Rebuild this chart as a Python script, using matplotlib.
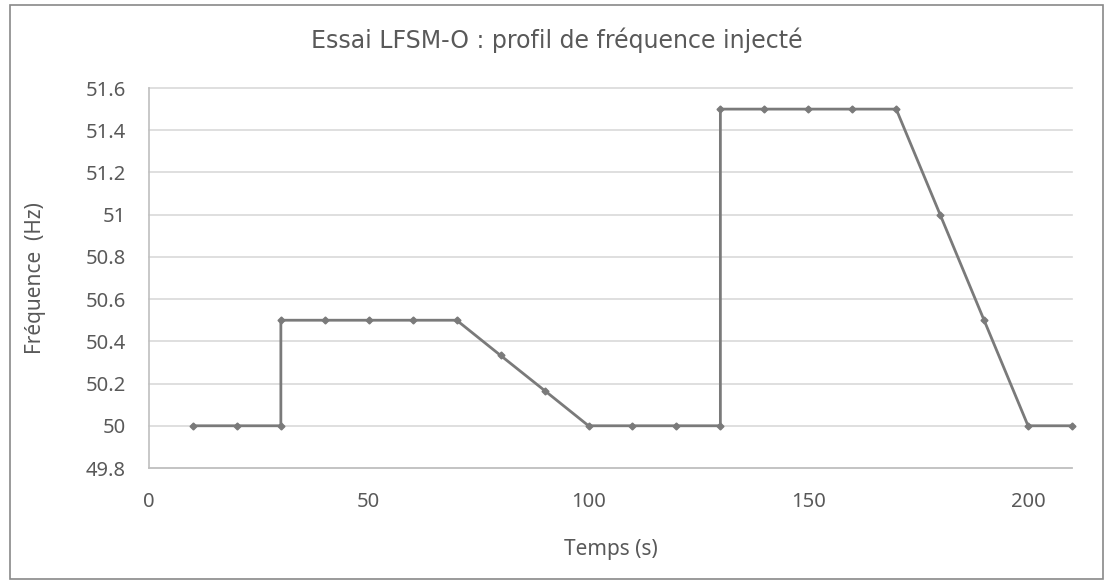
import matplotlib.pyplot as plt
from matplotlib.patches import Rectangle

# Injected frequency profile, one point every 10 s (vertical steps repeat x).
temps = [10, 20, 30, 30, 40, 50, 60, 70, 80, 90, 100, 110, 120, 130, 130,
         140, 150, 160, 170, 180, 190, 200, 210]
frequence = [50, 50, 50, 50.5, 50.5, 50.5, 50.5, 50.5, 50.333, 50.167, 50,
             50, 50, 50, 51.5, 51.5, 51.5, 51.5, 51.5, 51.0, 50.5, 50, 50]

x_ticks = [0, 50, 100, 150, 200]
y_ticks = [49.8, 50, 50.2, 50.4, 50.6, 50.8, 51, 51.2, 51.4, 51.6]
y_tick_labels = ["49.8", "50", "50.2", "50.4", "50.6", "50.8", "51",
                 "51.2", "51.4", "51.6"]

text_color = "#595959"
line_color = "#7a7a7a"
W, H = 1113, 584

fig = plt.figure(figsize=(W / 100, H / 100), dpi=100)
ax = fig.add_axes([149 / W, 1 - 468 / H, (1072 - 149) / W, (468 - 88) / H])

ax.plot(temps, frequence, color=line_color, linewidth=2,
        marker="D", markersize=3.5, markerfacecolor=line_color,
        markeredgecolor=line_color, zorder=3, clip_on=False)

ax.set_xlim(0, 210)
ax.set_ylim(49.8, 51.6)
ax.set_xticks(x_ticks)
ax.set_yticks(y_ticks)
ax.set_yticklabels(y_tick_labels)

ax.grid(axis="y", color="#d9d9d9", linewidth=1.2)
for gl in ax.get_ygridlines():
    gl.set_clip_on(False)
ax.set_axisbelow(True)
for side in ("top", "right"):
    ax.spines[side].set_visible(False)
for side in ("left", "bottom"):
    ax.spines[side].set_color("#bfbfbf")
    ax.spines[side].set_linewidth(1.2)

ax.tick_params(length=0, colors=text_color)
ax.tick_params(axis="y", pad=16.5)
ax.tick_params(axis="x", pad=17)
for lab in ax.get_xticklabels() + ax.get_yticklabels():
    lab.set_fontfamily("Noto Sans")
    lab.set_fontsize(14.5)

ax.set_xlabel("Temps (s)", fontsize=15, color=text_color, family="Noto Sans",
              va="center")
ax.xaxis.set_label_coords(0.5, -(550 - 468) / 380)
ax.set_ylabel("Fréquence  (Hz)", fontsize=15, color=text_color,
              family="Noto Sans", va="center")
ax.yaxis.set_label_coords(-(149 - 36) / 923, 0.5)

# title is centred on the whole chart, not on the plot area
fig.text(0.5, 1 - 40 / H, "Essai LFSM-O : profil de fréquence injecté",
         fontsize=17, color=text_color, ha="center", va="center")

# thin frame round the whole chart, like the spreadsheet export
fig.patches.append(Rectangle((10 / W, 1 - 579 / H), 1093 / W, 574 / H,
                             transform=fig.transFigure, fill=False,
                             edgecolor="#898989", linewidth=1.2))

fig.savefig("out.png", dpi=100)
